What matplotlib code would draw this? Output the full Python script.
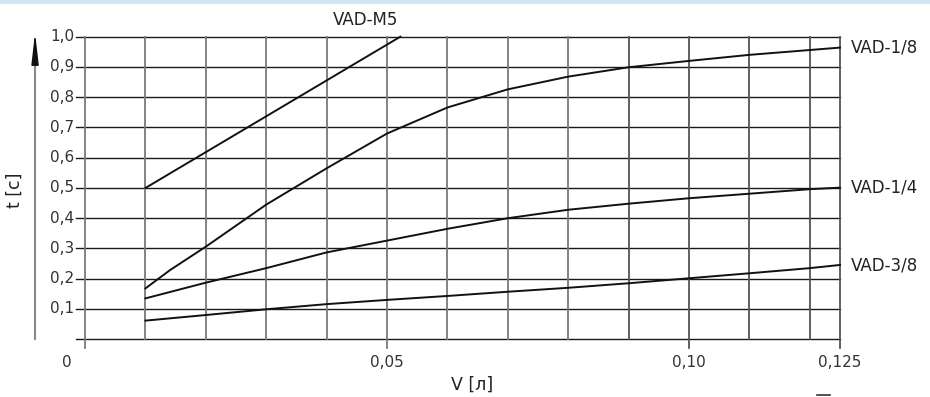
import matplotlib
matplotlib.use("Agg")
import matplotlib.pyplot as plt
from matplotlib.lines import Line2D
from matplotlib.patches import Rectangle

# ---- data ----
x_m5 = [0.01, 0.0522]
y_m5 = [0.50, 1.00]

x_18 = [0.01, 0.0141, 0.02, 0.03, 0.04, 0.05, 0.06, 0.07, 0.08, 0.09, 0.10, 0.11, 0.12, 0.125]
y_18 = [0.168, 0.229, 0.306, 0.445, 0.565, 0.680, 0.766, 0.826, 0.868, 0.899, 0.920, 0.940, 0.956, 0.964]

x_14 = [0.01, 0.02, 0.03, 0.04, 0.05, 0.06, 0.07, 0.08, 0.09, 0.10, 0.11, 0.12, 0.125]
y_14 = [0.135, 0.187, 0.235, 0.287, 0.326, 0.365, 0.400, 0.428, 0.448, 0.466, 0.481, 0.496, 0.501]

x_38 = [0.01, 0.02, 0.03, 0.04, 0.05, 0.06, 0.07, 0.08, 0.09, 0.10, 0.11, 0.12, 0.125]
y_38 = [0.0615, 0.080, 0.099, 0.116, 0.130, 0.143, 0.157, 0.170, 0.185, 0.2015, 0.218, 0.235, 0.2455]

series_names = ["VAD-M5", "VAD-1/8", "VAD-1/4", "VAD-3/8"]
x_ticks = [0.05, 0.10, 0.125]
x_tick_labels = ["0,05", "0,10", "0,125"]
y_ticks = [0.1, 0.2, 0.3, 0.4, 0.5, 0.6, 0.7, 0.8, 0.9, 1.0]
y_tick_labels = ["0,1", "0,2", "0,3", "0,4", "0,5", "0,6", "0,7", "0,8", "0,9", "1,0"]
grid_x = [0.0, 0.01, 0.02, 0.03, 0.04, 0.05, 0.06, 0.07, 0.08, 0.09, 0.10, 0.11, 0.12, 0.125]
grid_y = [0.0, 0.1, 0.2, 0.3, 0.4, 0.5, 0.6, 0.7, 0.8, 0.9, 1.0]

plt.rcParams['font.family'] = ['DejaVu Sans']

W, H = 930, 397
fig = plt.figure(figsize=(W / 100, H / 100), dpi=100)

# top light-blue band
fig.add_artist(Rectangle((0, 1 - 3.5 / H), 1, 3.5 / H, transform=fig.transFigure,
                         facecolor="#d3e7f3", edgecolor="none"))

xmin, xmax = -0.0015, 0.125
ymin, ymax = -0.029, 1.0
left = 76 / W
right = 840 / W
bottom = (H - 348) / H
top = (H - 36.7) / H
ax = fig.add_axes([left, bottom, right - left, top - bottom])
ax.set_xlim(xmin, xmax)
ax.set_ylim(ymin, ymax)
for s in ax.spines.values():
    s.set_visible(False)
ax.set_xticks([])
ax.set_yticks([])
ax.patch.set_visible(False)

# horizontal grid (black)
for gy in grid_y:
    ax.plot([xmin, xmax], [gy, gy], color="#1a1a1a", lw=1.0, clip_on=False, zorder=1)
# vertical grid (gray)
for gx in grid_x:
    y0 = ymin if gx in (0.0, 0.05, 0.10, 0.125) else 0.0
    col = "#7a7a7a" if gx < 0.085 else "#555555"
    ax.plot([gx, gx], [y0, 1.0], color=col, lw=1.3, clip_on=False, zorder=1)

# curves
for xs, ys in [(x_m5, y_m5), (x_18, y_18), (x_14, y_14), (x_38, y_38)]:
    ax.plot(xs, ys, color="#111111", lw=1.4, clip_on=False, zorder=3,
            solid_joinstyle="round")

# y tick labels
for v, lab in zip(y_ticks, y_tick_labels):
    ax.text(-0.0018, v, lab, ha="right", va="center", fontsize=11, color="#333333")
# x tick labels
ax.text(-0.003, -0.078, "0", ha="center", va="center", fontsize=11, color="#333333")
for v, lab in zip(x_ticks, x_tick_labels):
    ax.text(v, -0.078, lab, ha="center", va="center", fontsize=11, color="#333333")

# series labels
ax.text(0.0465, 1.055, series_names[0], ha="center", va="center", fontsize=12, color="#222222")
ax.text(0.1268, 0.965, series_names[1], ha="left", va="center", fontsize=12, color="#222222")
ax.text(0.1268, 0.50, series_names[2], ha="left", va="center", fontsize=12, color="#222222")
ax.text(0.1268, 0.245, series_names[3], ha="left", va="center", fontsize=12, color="#222222")

# axis labels
fig.text(471.7 / W, 1 - 385 / H, "V [л]", ha="center", va="center", fontsize=12.5, color="#222222")
fig.text(15 / W, 1 - 190 / H, "t [c]", ha="center", va="center", rotation=90, fontsize=12.5, color="#222222")

# y axis arrow
ax_x = (35 - 85) / 6040.0
ax.plot([ax_x, ax_x], [0.0, 0.93], color="#888888", lw=1.5, clip_on=False, zorder=2)
ax.annotate("", xy=(ax_x, 1.013), xytext=(ax_x, 0.905),
            arrowprops=dict(arrowstyle="-|>,head_length=1.9,head_width=0.22",
                            color="#111111", lw=1.0, shrinkA=0, shrinkB=0),
            annotation_clip=False)

# small cut-off mark at bottom right
fig.add_artist(Line2D([817 / W, 830 / W], [1 - 395.3 / H, 1 - 395.3 / H],
                      transform=fig.transFigure, color="#333333", lw=1.2))

fig.savefig("out.png", dpi=100)
